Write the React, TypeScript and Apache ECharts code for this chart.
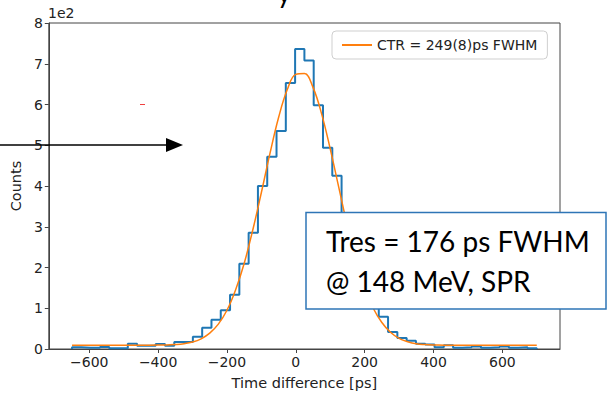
import React, { useEffect, useRef } from "react";
import * as echarts from "echarts";

// Histogram (step) — bins of 27 ps starting at -650 ps
const binStart = -650;
const binWidth = 27;
const counts = [
  4, 3, 3, 5, 2, 2, 13, 8, 8, 12, 8, 17, 17,
  30, 52, 72, 95, 133, 209, 285, 400,
  472, 535, 653, 736, 708, 598, 494, 425,
  320, 230, 160, 105, 79, 42, 27, 20,
  13, 11, 4, 9, 3, 4, 6, 3, 4, 6, 3, 4, 2,
];

// Gaussian fit curve
const fitX = [
  -650, -550, -450, -400, -375, -350, -325, -300, -275, -250, -225, -200, -175,
  -150, -125, -100, -75, -50, -25, 0, 25, 50, 75, 100, 125, 150, 175, 200, 225,
  250, 275, 300, 325, 350, 375, 400, 450, 550, 700,
];
const fitY = [
  9, 9, 9, 10, 10, 11, 13, 17, 25, 39, 61, 95, 145,
  210, 292, 384, 480, 568, 636, 674, 676, 642, 577, 491, 396, 302, 219, 152, 100,
  65, 41, 26, 18, 13, 11, 10, 9, 9, 9,
];

const xTicks = [-600, -400, -200, 0, 200, 400, 600];
const fitName = "CTR = 249(8)ps FWHM";
const xName = "Time difference [ps]";
const yName = "Counts";
const offsetText = "1e2";
const boxLine1 = "Tres = 176 ps FWHM";
const boxLine2 = "@ 148 MeV, SPR";

export default function App() {
  const ref = useRef<HTMLDivElement>(null);
  useEffect(() => {
    if (!ref.current) return;
    const chart = echarts.init(ref.current, null, { renderer: "svg" });

    const histData: [number, number][] = [[binStart, 0]];
    counts.forEach((c, i) => histData.push([binStart + i * binWidth, c]));
    histData.push([binStart + counts.length * binWidth, counts[counts.length - 1]]);
    histData.push([binStart + counts.length * binWidth, 0]);

    const fitData = fitX.map((x, i) => [x, fitY[i]]);
    const font = "DejaVu Sans";
    const axisColor = "#444";

    chart.setOption({
      animation: false,
      backgroundColor: "#fff",
      grid: {
        left: 46.5,
        right: 48,
        top: 23,
        bottom: 44.5,
        show: true,
        borderColor: axisColor,
        borderWidth: 1,
      },
      legend: {
        data: [fitName],
        left: 332,
        top: 31,
        padding: [7, 10, 7, 10],
        itemWidth: 30,
        itemHeight: 2,
        icon: "rect",
        borderColor: "#cfcfcf",
        borderWidth: 1,
        borderRadius: 4,
        backgroundColor: "rgba(255,255,255,0.85)",
        textStyle: { fontFamily: font, fontSize: 14, color: "#222" },
      },
      xAxis: {
        type: "value",
        min: -717.5,
        max: 767.5,
        splitLine: { show: false },
        axisLine: { show: true, onZero: false, lineStyle: { color: axisColor } },
        axisTick: {
          show: true,
          length: 4,
          customValues: xTicks,
          lineStyle: { color: axisColor },
        },
        axisLabel: {
          customValues: xTicks,
          fontFamily: font,
          fontSize: 14,
          color: "#222",
          margin: 6,
          formatter: (v: number) => (v < 0 ? "\u2212" + Math.abs(v) : String(v)),
        },
        name: xName,
        nameLocation: "middle",
        nameGap: 26,
        nameTextStyle: { fontFamily: font, fontSize: 14.5, color: "#222" },
      },
      yAxis: {
        type: "value",
        min: 0,
        max: 800,
        interval: 100,
        splitLine: { show: false },
        axisLine: { show: true, onZero: false, lineStyle: { color: axisColor } },
        axisTick: { show: true, length: 4, lineStyle: { color: axisColor } },
        axisLabel: {
          fontFamily: font,
          fontSize: 14,
          color: "#222",
          margin: 6,
          formatter: (v: number) => String(Math.round(v / 100)),
        },
        name: yName,
        nameLocation: "middle",
        nameGap: 25,
        nameTextStyle: { fontFamily: font, fontSize: 14.5, color: "#222" },
      },
      series: [
        {
          name: "hist",
          type: "line",
          step: "end",
          data: histData,
          showSymbol: false,
          symbol: "none",
          lineStyle: { color: "#1f77b4", width: 2 },
          itemStyle: { color: "#1f77b4" },
          z: 2,
        },
        {
          name: fitName,
          type: "line",
          data: fitData,
          smooth: 0.4,
          showSymbol: false,
          symbol: "none",
          lineStyle: { color: "#ff7f0e", width: 1.5 },
          itemStyle: { color: "#ff7f0e" },
          z: 3,
        },
      ],
      graphic: [
        {
          type: "text",
          left: 48,
          top: 6,
          style: { text: offsetText, fontFamily: font, fontSize: 14, fill: "#222" },
        },
        {
          type: "text",
          x: 277,
          y: -22,
          style: { text: "y", fontFamily: "Lato", fontSize: 28, fill: "#000" },
        },
        {
          type: "line",
          shape: { x1: 0, y1: 145, x2: 170, y2: 145 },
          style: { stroke: "#000", lineWidth: 1.5 },
          z: 10,
        },
        {
          type: "polygon",
          shape: { points: [[166, 138], [183, 145], [166, 152]] },
          style: { fill: "#000" },
          z: 10,
        },
        {
          type: "line",
          shape: { x1: 140, y1: 104.5, x2: 145, y2: 104.5 },
          style: { stroke: "#f04040", lineWidth: 1 },
          z: 10,
        },
        {
          type: "rect",
          shape: { x: 306, y: 212.5, width: 300, height: 96.5 },
          style: { fill: "#fff", stroke: "#2e75b6", lineWidth: 1.5 },
          z: 20,
        },
        {
          type: "text",
          x: 326,
          y: 241,
          z: 21,
          style: {
            text: boxLine1,
            fontFamily: "Lato",
            fontSize: 28,
            fill: "#000",
            verticalAlign: "middle",
          },
        },
        {
          type: "text",
          x: 326,
          y: 281,
          z: 21,
          style: {
            text: boxLine2,
            fontFamily: "Lato",
            fontSize: 28,
            fill: "#000",
            verticalAlign: "middle",
          },
        },
      ],
    });
    return () => chart.dispose();
  }, []);
  return (
    <div
      ref={ref}
      style={{ position: "fixed", left: 0, top: 0, width: 608, height: 395 }}
    />
  );
}
